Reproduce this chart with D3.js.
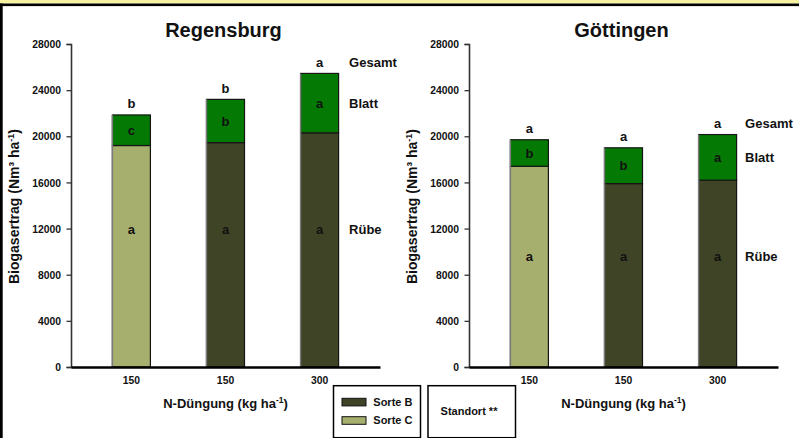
<!DOCTYPE html>
<html>
<head>
<meta charset="utf-8">
<script src="https://cdn.jsdelivr.net/npm/d3@7"></script>
<style>
  body { margin: 0; background: #fff; }
  svg { display: block; }
  text { font-family: "Liberation Sans", Arial, Helvetica, sans-serif; font-weight: bold; fill: #111; }
</style>
</head>
<body>
<svg id="chart" width="799" height="438"></svg>
<script>
// N-Düngung (kg ha-1) per bar and the variety grown
const doses = ["150", "150", "300"];
const varieties = ["Sorte C", "Sorte B", "Sorte B"];

// Biogasertrag (Nm³ ha-1): beet part and total (beet + leaf)
const regensburgRuebe = [19200, 19450, 20300];
const regensburgTotal = [21850, 23200, 25450];
const goettingenRuebe = [17400, 15900, 16200];
const goettingenTotal = [19700, 19000, 20150];

// significance letters
const regensburgLetterTotal = ["b", "b", "a"];
const regensburgLetterBlatt = ["c", "b", "a"];
const regensburgLetterRuebe = ["a", "a", "a"];
const goettingenLetterTotal = ["a", "a", "a"];
const goettingenLetterBlatt = ["b", "b", "a"];
const goettingenLetterRuebe = ["a", "a", "a"];

const yTicks = [0, 4000, 8000, 12000, 16000, 20000, 24000, 28000];
const sideLabels = ["Gesamt", "Blatt", "Rübe"];

const colors = { "Sorte B": "#404427", "Sorte C": "#a6af6d", blatt: "#047a04" };

const svg = d3.select("#chart");

// page frame: yellow strip, black rule on top, black edge on the left
svg.append("rect").attr("x", 0).attr("y", 0).attr("width", 799).attr("height", 3.5).attr("fill", "#f6f29f");
svg.append("rect").attr("x", 0).attr("y", 3.5).attr("width", 799).attr("height", 2.6).attr("fill", "#000");
svg.append("rect").attr("x", 0).attr("y", 3.5).attr("width", 2.7).attr("height", 438).attr("fill", "#000");

function condense(sel, k) {
  sel.each(function () {
    const w = this.getComputedTextLength();
    this.setAttribute("textLength", w * k);
    this.setAttribute("lengthAdjust", "spacingAndGlyphs");
  });
}

const panels = [
  { title: "Regensburg", left: 71, ruebe: regensburgRuebe, total: regensburgTotal,
    lTotal: regensburgLetterTotal, lBlatt: regensburgLetterBlatt, lRuebe: regensburgLetterRuebe,
    ruebeLabelAt: 11900, sideDx: 10.5 },
  { title: "Göttingen", left: 469, ruebe: goettingenRuebe, total: goettingenTotal,
    lTotal: goettingenLetterTotal, lBlatt: goettingenLetterBlatt, lRuebe: goettingenLetterRuebe,
    ruebeLabelAt: 9600, sideDx: 8.5 }
];

const plotW = 309, plotTop = 44, plotBottom = 367;

panels.forEach(p => {
  const g = svg.append("g");
  const x = d3.scaleBand().domain(d3.range(doses.length))
    .range([p.left, p.left + plotW]).paddingInner(0.596).paddingOuter(0.44);
  const y = d3.scaleLinear().domain([0, 28000]).range([plotBottom, plotTop]);
  const bw = x.bandwidth();

  // title
  g.append("text").attr("x", p.left + plotW / 2 - 2).attr("y", 37.3)
    .attr("text-anchor", "middle").style("font-size", "20px").text(p.title);

  // y axis
  const ya = g.append("g").attr("transform", `translate(${p.left},0)`)
    .call(d3.axisLeft(y).tickValues(yTicks).tickFormat(d3.format("d")).tickSize(4.5).tickPadding(5.5));
  ya.select(".domain").attr("stroke", "#333").attr("stroke-width", 1.6);
  ya.selectAll(".tick line").attr("stroke", "#333").attr("stroke-width", 1.3);
  ya.selectAll(".tick text").attr("fill", "#111")
    .style("font-size", "11.5px").style("font-weight", "bold")
    .style("font-family", "'Liberation Sans', Arial, sans-serif");
  condense(ya.selectAll(".tick text"), 0.9);

  // y axis title
  const yl = g.append("text")
    .attr("transform", `translate(${p.left - 52},${(plotTop + plotBottom) / 2 + 1}) rotate(-90)`)
    .attr("text-anchor", "middle").style("font-size", "14px");
  yl.append("tspan").text("Biogasertrag (Nm³ ha");
  yl.append("tspan").attr("dy", -5).style("font-size", "9px").text("-1");
  yl.append("tspan").attr("dy", 5).text(")");

  // bars: beet part
  const idx = d3.range(doses.length);
  g.selectAll(".ruebe").data(idx).join("rect")
    .attr("x", i => x(i)).attr("width", bw)
    .attr("y", i => y(p.ruebe[i])).attr("height", i => y(0) - y(p.ruebe[i]))
    .attr("fill", i => colors[varieties[i]]).attr("stroke", "#151515").attr("stroke-width", 1.2);
  // bars: leaf part on top
  g.selectAll(".blatt").data(idx).join("rect")
    .attr("x", i => x(i)).attr("width", bw)
    .attr("y", i => y(p.total[i])).attr("height", i => y(p.ruebe[i]) - y(p.total[i]))
    .attr("fill", colors.blatt).attr("stroke", "#151515").attr("stroke-width", 1.2);
  // lighter left edge of each bar
  g.selectAll(".edge").data(idx).join("line")
    .attr("x1", i => x(i)).attr("x2", i => x(i))
    .attr("y1", i => y(p.total[i])).attr("y2", y(0))
    .attr("stroke", "#7a7a7a").attr("stroke-width", 1.4);

  // x axis
  const xa = g.append("g").attr("transform", `translate(0,${plotBottom})`)
    .call(d3.axisBottom(x).tickFormat(i => doses[i]).tickSize(0).tickPadding(9));
  xa.select(".domain").attr("stroke", "#000").attr("stroke-width", 2.4);
  xa.selectAll(".tick text").attr("fill", "#111")
    .style("font-size", "11.5px").style("font-weight", "bold")
    .style("font-family", "'Liberation Sans', Arial, sans-serif");
  condense(xa.selectAll(".tick text"), 0.9);

  // x axis title
  const xl = g.append("text").attr("x", p.left + plotW / 2).attr("y", 408.3)
    .attr("text-anchor", "middle").style("font-size", "13px");
  xl.append("tspan").text("N-Düngung (kg ha");
  xl.append("tspan").attr("dy", -5).style("font-size", "8.5px").text("-1");
  xl.append("tspan").attr("dy", 5).text(")");

  // letters
  const cx = i => x(i) + bw / 2;
  g.selectAll(".lt").data(idx).join("text")
    .attr("x", cx).attr("y", i => y(p.total[i]) - 11).attr("dy", "0.35em")
    .attr("text-anchor", "middle").style("font-size", "13px").text(i => p.lTotal[i]);
  g.selectAll(".lb").data(idx).join("text")
    .attr("x", cx).attr("y", i => (y(p.total[i]) + y(p.ruebe[i])) / 2).attr("dy", "0.35em")
    .attr("text-anchor", "middle").style("font-size", "13px").text(i => p.lBlatt[i]);
  g.selectAll(".lr").data(idx).join("text")
    .attr("x", cx).attr("y", y(p.ruebeLabelAt)).attr("dy", "0.35em")
    .attr("text-anchor", "middle").style("font-size", "13px").text(i => p.lRuebe[i]);

  // side labels next to the last bar
  const last = doses.length - 1;
  const sx = x(last) + bw + p.sideDx;
  const sideY = [y(p.total[last]) - 11, (y(p.total[last]) + y(p.ruebe[last])) / 2, y(p.ruebeLabelAt)];
  g.selectAll(".side").data(sideLabels).join("text")
    .attr("x", sx).attr("y", (d, k) => sideY[k]).attr("dy", "0.35em")
    .style("font-size", "13px").text(d => d);
});

// legend boxes
const leg = svg.append("g");
leg.append("rect").attr("x", 333.5).attr("y", 385.7).attr("width", 87).attr("height", 52)
  .attr("fill", "#fff").attr("stroke", "#000").attr("stroke-width", 1.5);
const legendItems = ["Sorte B", "Sorte C"];
leg.selectAll(".sw").data(legendItems).join("rect")
  .attr("x", 342).attr("y", (d, k) => 398.3 + k * 18.4).attr("width", 24).attr("height", 7.6)
  .attr("fill", d => colors[d]).attr("stroke", "#111").attr("stroke-width", 1);
leg.selectAll(".lt").data(legendItems).join("text")
  .attr("x", 373.3).attr("y", (d, k) => 402.1 + k * 18.4).attr("dy", "0.35em")
  .style("font-size", "11px").text(d => d);

leg.append("rect").attr("x", 428).attr("y", 385.7).attr("width", 87.5).attr("height", 52)
  .attr("fill", "#fff").attr("stroke", "#000").attr("stroke-width", 1.5);
leg.append("text").attr("x", 469).attr("y", 411).attr("dy", "0.35em")
  .attr("text-anchor", "middle").style("font-size", "11px").text("Standort **");
</script>
</body>
</html>
